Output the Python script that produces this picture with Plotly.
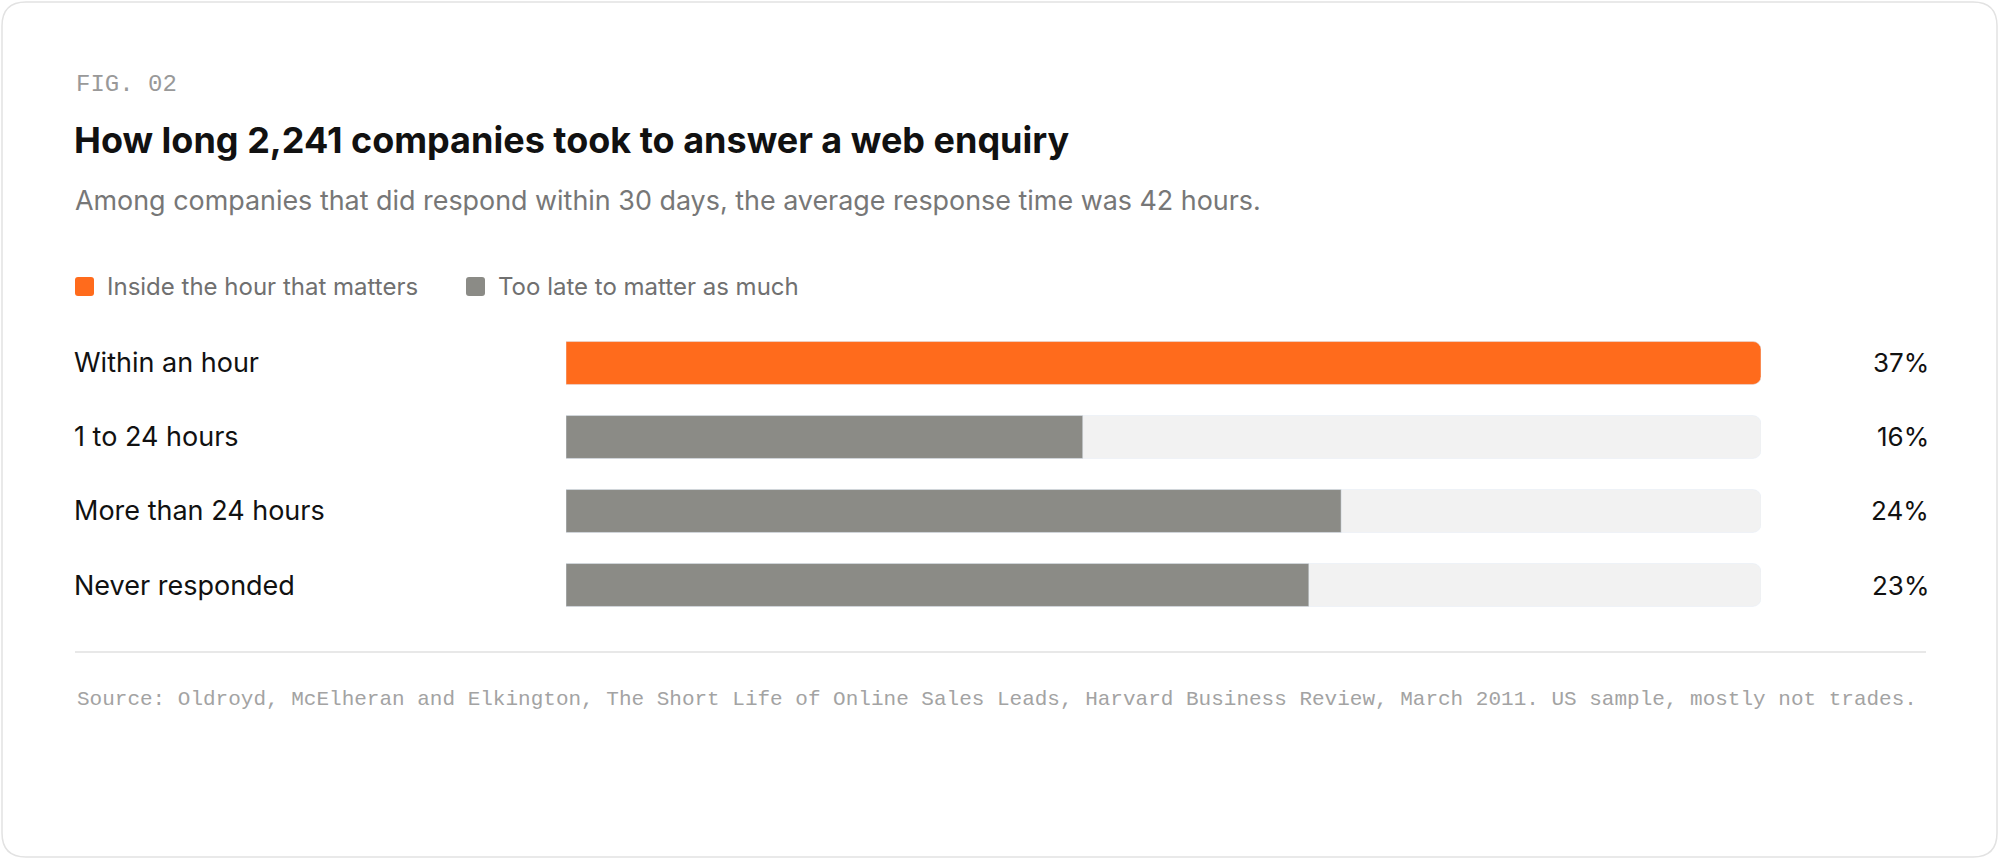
import plotly.graph_objects as go

W, H = 2000, 860

categories = ['Within an hour', '1 to 24 hours', 'More than 24 hours', 'Never responded']
shares = [37, 16, 24, 23]
bar_groups = ['Inside the hour that matters', 'Too late to matter as much',
              'Too late to matter as much', 'Too late to matter as much']
value_labels = ['37%', '16%', '24%', '23%']

group_colors = {
    'Inside the hour that matters': '#ff6b1c',
    'Too late to matter as much': '#8b8b86',
}
TRACK = '#f2f2f2'
SANS = 'Inter, Roboto, sans-serif'
MONO = 'Liberation Mono, DejaVu Sans Mono, monospace'


def px(x):
    return x / W


def py(y):
    return 1 - y / H


def round_rect(x0, y0, x1, y1, r):
    # rounded rectangle path in paper coords from pixel corners
    pts = [
        f'M {px(x0 + r)} {py(y0)}',
        f'L {px(x1 - r)} {py(y0)}',
        f'Q {px(x1)} {py(y0)} {px(x1)} {py(y0 + r)}',
        f'L {px(x1)} {py(y1 - r)}',
        f'Q {px(x1)} {py(y1)} {px(x1 - r)} {py(y1)}',
        f'L {px(x0 + r)} {py(y1)}',
        f'Q {px(x0)} {py(y1)} {px(x0)} {py(y1 - r)}',
        f'L {px(x0)} {py(y0 + r)}',
        f'Q {px(x0)} {py(y0)} {px(x0 + r)} {py(y0)}',
        'Z',
    ]
    return ' '.join(pts)


fig = go.Figure()

# grey track behind every bar
fig.add_trace(go.Bar(
    x=[max(shares)] * len(categories), y=categories, orientation='h',
    marker=dict(color=TRACK, cornerradius=8), width=0.58,
    hoverinfo='skip', showlegend=False,
))
fig.add_trace(go.Bar(
    x=shares, y=categories, orientation='h',
    marker=dict(color=[group_colors[g] for g in bar_groups], cornerradius=8),
    width=0.58, showlegend=False,
))

shapes = [
    dict(type='path', xref='paper', yref='paper', path=round_rect(2, 2, 1997, 857, 24),
         line=dict(color='#e2e2e2', width=1.5), fillcolor='white', layer='below'),
    dict(type='line', xref='paper', yref='paper', x0=px(75), x1=px(1926), y0=py(652), y1=py(652),
         line=dict(color='#e0e0e0', width=1.5)),
]

annotations = [
    dict(text='FIG. 02', x=px(74), y=py(85), font=dict(family=MONO, size=24, color='#999999')),
    dict(text='<b>How long 2,241 companies took to answer a web enquiry</b>', x=px(72), y=py(140),
         font=dict(family=SANS, size=36, color='#111111')),
    dict(text='Among companies that did respond within 30 days, the average response time was 42 hours.',
         x=px(73), y=py(200), font=dict(family=SANS, size=26.9, color='#777777')),
    dict(text='Source: Oldroyd, McElheran and Elkington, The Short Life of Online Sales Leads, '
              'Harvard Business Review, March 2011. US sample, mostly not trades.',
         x=px(75), y=py(699), font=dict(family=MONO, size=21, color='#a3a3a3')),
]

# legend drawn by hand so the swatches sit where they should
legend_x = [75, 466]
for lx, name in zip(legend_x, group_colors):
    shapes.append(dict(type='path', xref='paper', yref='paper',
                       path=round_rect(lx, 277, lx + 19, 296, 3),
                       fillcolor=group_colors[name], line=dict(width=0)))
    annotations.append(dict(text=name, x=px(lx + 30), y=py(286),
                            font=dict(family=SANS, size=24, color='#707070')))

for cat, lab in zip(categories, value_labels):
    annotations.append(dict(text=cat, x=px(72), y=cat, yref='y',
                            font=dict(family=SANS, size=27, color='#111111')))
    annotations.append(dict(text=lab, x=px(1931), y=cat, yref='y', xanchor='right',
                            font=dict(family=SANS, size=26, color='#111111')))

for a in annotations:
    a.setdefault('xref', 'paper')
    a.setdefault('yref', 'paper')
    a.setdefault('xanchor', 'left')
    a.setdefault('yanchor', 'middle')
    a['showarrow'] = False

fig.update_layout(
    width=W, height=H,
    margin=dict(l=0, r=0, t=0, b=0),
    paper_bgcolor='white', plot_bgcolor='rgba(0,0,0,0)',
    barmode='overlay',
    shapes=shapes, annotations=annotations,
    xaxis=dict(domain=[px(566), px(1761)], range=[0, max(shares)], visible=False, fixedrange=True),
    yaxis=dict(domain=[py(622), py(326)], range=[3.5, -0.5], visible=False, fixedrange=True),
)

fig.write_html('out.html', config={'displayModeBar': False},
               post_script="document.body.style.margin='0';document.body.style.overflow='hidden';")
